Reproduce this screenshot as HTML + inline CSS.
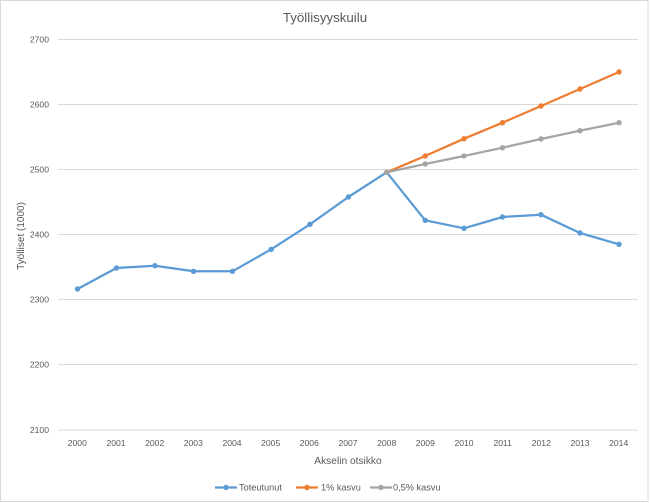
<!DOCTYPE html>
<html><head><meta charset="utf-8"><style>
html,body{margin:0;padding:0;background:#fff;}
svg{display:block;}
text{font-family:"Liberation Sans",sans-serif;fill:#595959;}
</style></head><body>
<svg width="650" height="503" viewBox="0 0 650 503" xmlns="http://www.w3.org/2000/svg">
<rect x="0.5" y="0.5" width="647.5" height="501" fill="#fff" stroke="#D9D9D9" stroke-width="1"/>
<text x="325" y="22" font-size="13.3" text-anchor="middle">Työllisyyskuilu</text>
<g stroke="#D9D9D9" stroke-width="1">
<line x1="58" x2="638" y1="39.5" y2="39.5"/>
<line x1="58" x2="638" y1="104.5" y2="104.5"/>
<line x1="58" x2="638" y1="169.5" y2="169.5"/>
<line x1="58" x2="638" y1="234.5" y2="234.5"/>
<line x1="58" x2="638" y1="299.5" y2="299.5"/>
<line x1="58" x2="638" y1="364.5" y2="364.5"/>
<line x1="58" x2="638" y1="430" y2="430"/>
</g>
<g font-size="8.6" text-anchor="end">
<text x="49" y="42.5">2700</text>
<text x="49" y="107.5">2600</text>
<text x="49" y="172.5">2500</text>
<text x="49" y="237.5">2400</text>
<text x="49" y="302.5">2300</text>
<text x="49" y="367.5">2200</text>
<text x="49" y="433">2100</text>
</g>
<g font-size="8.6" text-anchor="middle">
<text x="77.3" y="446">2000</text>
<text x="116" y="446">2001</text>
<text x="154.7" y="446">2002</text>
<text x="193.3" y="446">2003</text>
<text x="232" y="446">2004</text>
<text x="270.7" y="446">2005</text>
<text x="309.3" y="446">2006</text>
<text x="348" y="446">2007</text>
<text x="386.7" y="446">2008</text>
<text x="425.3" y="446">2009</text>
<text x="464" y="446">2010</text>
<text x="502.7" y="446">2011</text>
<text x="541.3" y="446">2012</text>
<text x="580" y="446">2013</text>
<text x="618.7" y="446">2014</text>
</g>
<text x="348" y="464" font-size="10.2" text-anchor="middle">Akselin otsikko</text>
<text transform="translate(24,236) rotate(-90)" font-size="10" text-anchor="middle">Työlliset (1000)</text>
<!-- blue -->
<polyline fill="none" stroke="#5B9BD5" stroke-width="2.25" stroke-linejoin="round" points="77.5,289 116.5,268 155,265.7 193.5,271.3 232.5,271.3 271.2,249.3 310,224.3 348.4,197 386.7,172.3 425.2,220.3 464,228.3 502.5,217 541,214.7 580,233 619,244.3"/>
<g fill="#5B9BD5">
<circle cx="77.5" cy="289" r="2.7"/><circle cx="116.5" cy="268" r="2.7"/><circle cx="155" cy="265.7" r="2.7"/><circle cx="193.5" cy="271.3" r="2.7"/><circle cx="232.5" cy="271.3" r="2.7"/><circle cx="271.2" cy="249.3" r="2.7"/><circle cx="310" cy="224.3" r="2.7"/><circle cx="348.4" cy="197" r="2.7"/><circle cx="425.2" cy="220.3" r="2.7"/><circle cx="464" cy="228.3" r="2.7"/><circle cx="502.5" cy="217" r="2.7"/><circle cx="541" cy="214.7" r="2.7"/><circle cx="580" cy="233" r="2.7"/><circle cx="619" cy="244.3" r="2.7"/>
</g>
<!-- orange -->
<polyline fill="none" stroke="#ED7D31" stroke-width="2.25" stroke-linejoin="round" points="386.7,172.3 425.2,156 464,138.7 502.5,122.7 541,106 580,89 619,72"/>
<g fill="#ED7D31">
<circle cx="425.2" cy="156" r="2.7"/><circle cx="464" cy="138.7" r="2.7"/><circle cx="502.5" cy="122.7" r="2.7"/><circle cx="541" cy="106" r="2.7"/><circle cx="580" cy="89" r="2.7"/><circle cx="619" cy="72" r="2.7"/>
</g>
<!-- gray -->
<polyline fill="none" stroke="#A5A5A5" stroke-width="2.25" stroke-linejoin="round" points="386.7,172.3 425.2,164 464,156 502.5,147.7 541,139 580,130.7 619,122.7"/>
<g fill="#A5A5A5">
<circle cx="386.7" cy="172.3" r="2.7"/><circle cx="425.2" cy="164" r="2.7"/><circle cx="464" cy="156" r="2.7"/><circle cx="502.5" cy="147.7" r="2.7"/><circle cx="541" cy="139" r="2.7"/><circle cx="580" cy="130.7" r="2.7"/><circle cx="619" cy="122.7" r="2.7"/>
</g>
<!-- legend -->
<line x1="215" x2="237" y1="487.5" y2="487.5" stroke="#5B9BD5" stroke-width="2.25"/>
<circle cx="226" cy="487.5" r="2.7" fill="#5B9BD5"/>
<text x="239" y="490.5" font-size="9.2">Toteutunut</text>
<line x1="296" x2="318" y1="487.5" y2="487.5" stroke="#ED7D31" stroke-width="2.25"/>
<circle cx="307" cy="487.5" r="2.7" fill="#ED7D31"/>
<text x="321" y="490.5" font-size="9.2">1% kasvu</text>
<line x1="370" x2="392" y1="487.5" y2="487.5" stroke="#A5A5A5" stroke-width="2.25"/>
<circle cx="381" cy="487.5" r="2.7" fill="#A5A5A5"/>
<text x="393" y="490.5" font-size="9.2">0,5% kasvu</text>
</svg>
</body></html>
